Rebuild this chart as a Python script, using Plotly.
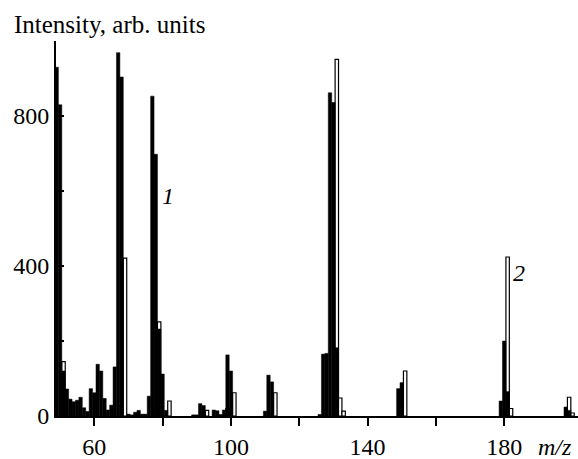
import plotly.graph_objects as go

# Series 1 (black bars): m/z and intensity
mz_1 = [49, 50, 51, 52, 53, 54, 55, 56, 57, 58, 59, 60, 61, 62, 63, 64, 65, 66, 67, 68,
        70, 71, 72, 73, 74, 75, 76, 77, 78, 79, 80, 81, 89, 90, 91, 92, 95, 96, 97, 98,
        99, 100, 110, 111, 112, 126, 127, 128, 129, 130, 131, 149, 150, 179, 180, 181,
        198, 199]
int_1 = [930, 830, 120, 72, 45, 38, 42, 50, 22, 12, 73, 62, 138, 120, 47, 16, 29, 131, 969, 904,
         5, 3, 10, 15, 5, 5, 53, 853, 698, 232, 112, 15, 3, 3, 33, 28, 16, 14, 4, 16,
         163, 120, 13, 109, 91, 4, 165, 167, 862, 836, 182, 73, 89, 40, 200, 65,
         24, 15]

# Series 2 (white bars)
mz_2 = [51, 69, 79, 82, 93, 99, 101, 113, 131, 132, 133, 151, 181, 182, 199, 200]
int_2 = [145, 421, 251, 40, 15, 20, 62, 62, 951, 48, 13, 120, 424, 20, 50, 8]

x_tickvals = [60, 80, 100, 120, 140, 160, 180]
x_ticktext = ["60", "", "100", "", "140", "", "180"]
y_tickvals = [0, 200, 400, 600, 800]
y_ticktext = ["0", "", "400", "", "800"]

FONT = "'Liberation Serif', 'Times New Roman', Times, serif"

fig = go.Figure()
fig.add_trace(go.Bar(x=mz_2, y=int_2, width=1.0,
                     marker=dict(color="white", line=dict(color="black", width=1.2)),
                     name="2"))
fig.add_trace(go.Bar(x=mz_1, y=int_1, width=1.0,
                     marker=dict(color="black", line=dict(color="black", width=0.5)),
                     name="1"))

fig.update_layout(
    width=578, height=459,
    margin=dict(l=56, r=0, t=41, b=43),
    paper_bgcolor="white", plot_bgcolor="white",
    barmode="overlay", showlegend=False,
    font=dict(family=FONT, size=24, color="black"),
    xaxis=dict(range=[48.8, 201.6], showline=True, linewidth=2, linecolor="black",
               ticks="outside", ticklen=8, tickwidth=2, tickcolor="black",
               tickvals=x_tickvals, ticktext=x_ticktext,
               showgrid=False, zeroline=False),
    yaxis=dict(range=[0, 1000], showline=True, linewidth=2, linecolor="black",
               ticks="inside", ticklen=8, tickwidth=2, tickcolor="black",
               tickvals=y_tickvals, ticktext=y_ticktext,
               showgrid=False, zeroline=False),
    annotations=[
        dict(text="Intensity, arb. units", xref="paper", yref="paper",
             x=-0.0843, y=1.043, xanchor="left", yanchor="middle",
             showarrow=False, font=dict(family=FONT, size=25)),
        dict(text="<i>m/z</i>", xref="paper", yref="paper",
             x=0.956, y=-0.083, xanchor="center", yanchor="middle",
             showarrow=False, font=dict(family=FONT, size=24)),
        dict(text="<i>1</i>", x=81.7, y=588, xref="x", yref="y",
             showarrow=False, font=dict(family=FONT, size=24)),
        dict(text="<i>2</i>", x=184.3, y=381, xref="x", yref="y",
             showarrow=False, font=dict(family=FONT, size=24)),
    ],
)

fig.write_html("out.html", config={"displayModeBar": False},
               post_script="document.body.style.margin='0';document.body.style.overflow='hidden';")
